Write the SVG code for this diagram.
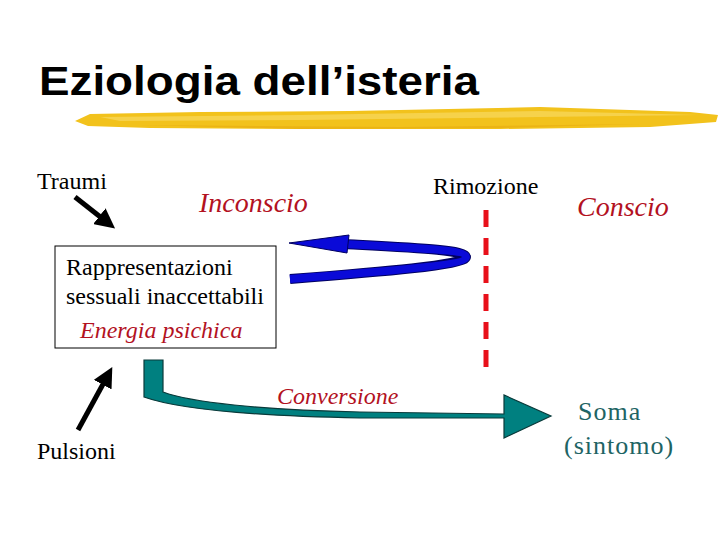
<svg xmlns="http://www.w3.org/2000/svg" width="720" height="540" viewBox="0 0 720 540">
<style>
.t{font-family:"Liberation Serif","Times New Roman",serif;font-size:24px;fill:#000}
.it{font-family:"Liberation Serif","Times New Roman",serif;font-style:italic;fill:#b3121f}
.soma{font-family:"Liberation Serif","Times New Roman",serif;font-size:26px;fill:#1e6464;letter-spacing:1px}
</style>
<defs>
<marker id="ah" markerWidth="4" markerHeight="4" refX="2.2" refY="2" orient="auto" markerUnits="strokeWidth">
<path d="M0,0 L4,2 L0,4 Z" fill="#000"/>
</marker>
</defs>
<rect width="720" height="540" fill="#fff"/>
<g id="title">
<text x="39" y="95" font-family="Liberation Sans,Arial,sans-serif" font-weight="bold" font-size="40" textLength="440" lengthAdjust="spacingAndGlyphs">Eziologia dell’isteria</text>
<path d="M75,121 L90,114 L200,112 L350,111 L540,107 L600,109 L690,112 L718,115 L716,122 L650,127 L500,129 L300,129 L150,128 L88,126 Z" fill="#f2c21c"/>
<path d="M100,117 L300,115 L540,111 L700,115 L540,117 L300,120 L120,121 Z" fill="#f8d860" opacity="0.7"/>
<path d="M140,125 L400,127 L640,124 L500,128 L300,129 Z" fill="#e6aa10" opacity="0.6"/>
</g>
<g id="connectors">
<line x1="75" y1="197" x2="108" y2="223" stroke="#000" stroke-width="5" marker-end="url(#ah)"/>
<line x1="78" y1="430" x2="108" y2="375" stroke="#000" stroke-width="5" marker-end="url(#ah)"/>
<line x1="486" y1="210" x2="486" y2="367" stroke="#e8101a" stroke-width="5" stroke-dasharray="17,11"/>
<g id="rimozione-arrow">
<path d="M345,244 C420,248 466,250 466,257 C466,265 380,272 290,279" fill="none" stroke="#000060" stroke-width="10"/>
<path d="M345,244 C420,248 466,250 466,257 C466,265 380,272 290,279" fill="none" stroke="#0a0ad8" stroke-width="8"/>
<polygon points="289,243 349,235 347,253" fill="#0a0ad8" stroke="#000060" stroke-width="1"/>
</g>
<g id="conversione-arrow">
<path d="M144,360 L163,360 L163,392 C190,402 260,410 360,412 L504,414 L504,395 L551,416 L504,438 L504,418 L360,418 C260,416 180,410 144,397 Z" fill="#008080" stroke="#0a3a3a" stroke-width="1.2"/>
</g>
</g>
<g id="traumi"><text class="t" x="37" y="189">Traumi</text></g>
<g id="inconscio"><text class="it" x="199" y="212" font-size="28">Inconscio</text></g>
<g id="rimozione"><text class="t" x="433" y="194">Rimozione</text></g>
<g id="conscio"><text class="it" x="577" y="216" font-size="28">Conscio</text></g>
<g id="box">
<rect x="55" y="246" width="221" height="102" fill="#fff" stroke="#000" stroke-width="1"/>
<text class="t" x="66" y="275">Rappresentazioni</text>
<text class="t" x="66" y="304">sessuali inaccettabili</text>
<text class="it" x="80" y="338" font-size="24">Energia psichica</text>
</g>
<g id="conversione"><text class="it" x="277" y="404" font-size="24">Conversione</text></g>
<g id="pulsioni"><text class="t" x="37" y="459">Pulsioni</text></g>
<g id="soma">
<text class="soma" x="578" y="420">Soma</text>
<text class="soma" x="564" y="454">(sintomo)</text>
</g>
</svg>
